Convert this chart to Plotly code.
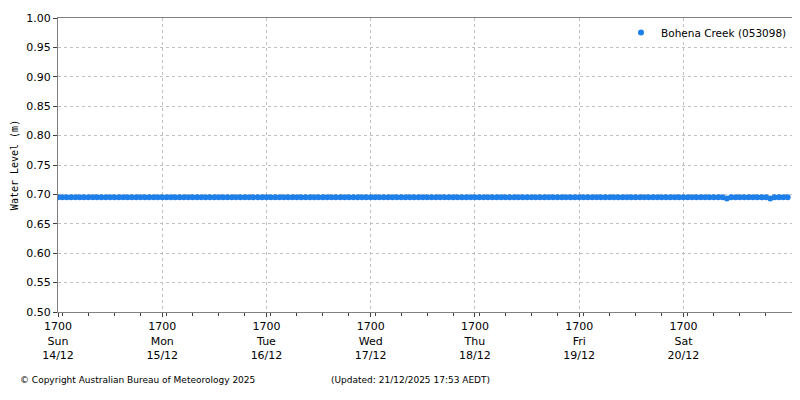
import pandas as pd
import plotly.graph_objects as go

# hourly readings from 14/12 17:00 to 21/12 17:00
times = pd.date_range("2025-12-14 17:00", "2025-12-21 17:00", freq="h")
level = (
    [0.695] * 24 +
    [0.695] * 24 +
    [0.695] * 24 +
    [0.695] * 24 +
    [0.695] * 24 +
    [0.695] * 24 +
    [0.695, 0.695, 0.695, 0.695, 0.695, 0.695, 0.695, 0.695, 0.695, 0.695,
     0.693, 0.695, 0.695, 0.695, 0.695, 0.695, 0.695, 0.695, 0.695, 0.695,
     0.693, 0.695, 0.695, 0.695] +
    [0.695]
)

tick_vals = pd.date_range("2025-12-14 17:00", "2025-12-20 17:00", freq="D")
tick_days = ["Sun", "Mon", "Tue", "Wed", "Thu", "Fri", "Sat"]
tick_dates = ["14/12", "15/12", "16/12", "17/12", "18/12", "19/12", "20/12"]
tick_text = ["1700<br>%s<br>%s" % (d, dt) for d, dt in zip(tick_days, tick_dates)]

font = dict(family="DejaVu Sans", size=11, color="#000000")

fig = go.Figure()
fig.add_scatter(x=times, y=level, mode="markers",
                marker=dict(color="#1E7FE8", size=6),
                name="Bohena Creek (053098)")

# page body adds an 8px margin, so the figure is a bit smaller
fig.layout.width = 792
fig.layout.height = 392
fig.layout.margin = dict(l=50, r=8, t=10, b=88, autoexpand=False)
fig.layout.plot_bgcolor = "white"
fig.layout.paper_bgcolor = "white"
fig.layout.font = font
fig.layout.showlegend = True
fig.layout.legend = dict(x=1.0, y=1.0, xanchor="right", yanchor="top",
                         bgcolor="rgba(255,255,255,0)",
                         font=dict(family="DejaVu Sans", size=10.5),
                         itemwidth=30)

fig.update_xaxes(range=["2025-12-14 17:00", "2025-12-21 18:00"],
                 tickvals=tick_vals, ticktext=tick_text, tickangle=0,
                 showline=True, linecolor="#808080", linewidth=1, mirror=True,
                 showgrid=True, gridcolor="#c0c0c0", griddash="dot",
                 ticks="outside", ticklen=4, tickcolor="#404040",
                 minor=dict(dtick=6 * 3600 * 1000, ticks="outside", ticklen=3,
                            tickcolor="#404040", showgrid=False),
                 zeroline=False, tickfont=font, automargin=False)
fig.update_yaxes(range=[0.5, 1.0], dtick=0.05, tickformat=".2f",
                 showline=True, linecolor="#808080", linewidth=1, mirror=True,
                 showgrid=True, gridcolor="#c0c0c0", griddash="dot",
                 ticks="outside", ticklen=4, tickcolor="#404040",
                 zeroline=False, tickfont=font, automargin=False,
                 title=dict(text="Water Level (m)", standoff=5,
                            font=dict(family="DejaVu Sans Mono", size=10)))

fig.add_annotation(text="© Copyright Australian Bureau of Meteorology 2025",
                   xref="paper", yref="paper", x=-0.0545, y=-0.231,
                   xanchor="left", yanchor="middle", showarrow=False,
                   font=dict(family="DejaVu Sans", size=9))
fig.add_annotation(text="(Updated: 21/12/2025 17:53 AEDT)",
                   xref="paper", yref="paper", x=0.369, y=-0.231,
                   xanchor="left", yanchor="middle", showarrow=False,
                   font=dict(family="DejaVu Sans", size=9))

fig.write_html("out.html")
